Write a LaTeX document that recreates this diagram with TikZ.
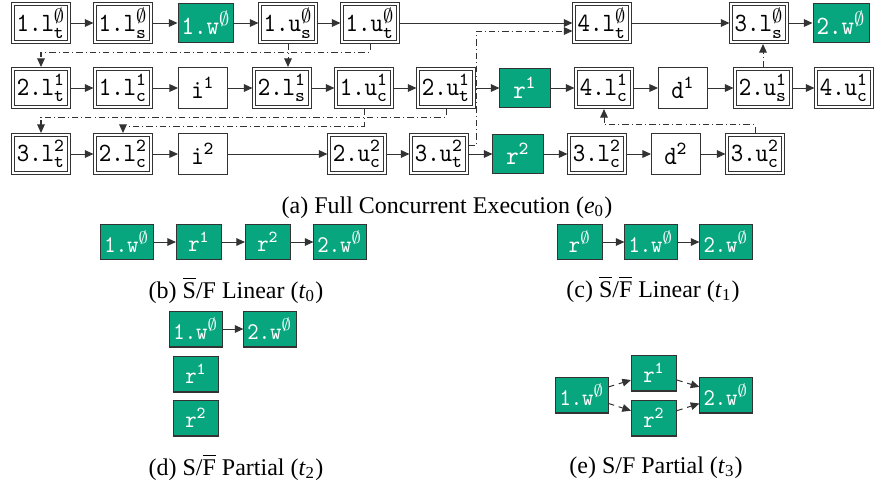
\documentclass[tikz,border=0pt]{standalone}
\usepackage{fontspec}
\setmainfont{Liberation Serif}
\newfontfamily\boxfont{lmmono10-regular.otf}[FakeStretch=0.9]
\usepackage{tikz}
\usetikzlibrary{arrows.meta,calc}
\definecolor{wgreen}{HTML}{07A67E}
\definecolor{ink}{HTML}{333333}
\newcommand{\opn}[3]{#1$^{\mathtt{#2}}_{\mathtt{#3}}$}
\newcommand{\ops}[2]{#1$^{\mathtt{#2}}$}
\tikzset{
  dbox/.style={draw=ink,double,double distance=0.8pt,line width=0.42pt,outer sep=0.82pt,inner sep=0pt,minimum width=23pt,minimum height=15.9pt,font=\fontsize{11}{13}\selectfont\boxfont},
  sbox/.style={draw=ink,line width=0.42pt,inner sep=0pt,minimum width=20.4pt,minimum height=17.1pt,font=\fontsize{11}{13}\selectfont\boxfont},
  gbox/.style={draw=ink,fill=wgreen,text=white,line width=0.42pt,inner xsep=1.5pt,inner ysep=0pt,minimum width=20.9pt,minimum height=16.3pt,font=\fontsize{11}{13}\selectfont\boxfont},
  gsub/.style={gbox,inner xsep=1.5pt,minimum width=18.8pt,minimum height=15pt,font=\fontsize{10}{12}\selectfont\boxfont},
  varr/.style={-{Triangle[length=3.6pt,width=3.2pt]},line width=0.42pt,draw=ink},
  vdash/.style={varr,dash pattern=on 2.6pt off 1.3pt on 0.4pt off 1.3pt},
  vdot/.style={varr,dash pattern=on 2.4pt off 2pt},
  capt/.style={inner sep=0pt,anchor=base,font=\fontsize{10}{12}\selectfont}
}
\begin{document}
\begin{tikzpicture}[x=0.417pt,y=-0.417pt]
  \useasboundingbox (0,0) rectangle (874,486);
  % (a) full concurrent execution
  \node[dbox] (A1) at (41,23) {\opn{1.l}{\emptyset}{t}};
  \node[dbox] (A2) at (123,23) {\opn{1.l}{\emptyset}{s}};
  \node[gbox] (A3) at (206,23) {\ops{1.w}{\emptyset}};
  \node[dbox] (A4) at (288,23) {\opn{1.u}{\emptyset}{s}};
  \node[dbox] (A5) at (370,23) {\opn{1.u}{\emptyset}{t}};
  \node[dbox] (A6) at (602,23) {\opn{4.l}{\emptyset}{t}};
  \node[dbox] (A7) at (759,23) {\opn{3.l}{\emptyset}{s}};
  \node[gbox] (A8) at (841,23) {\ops{2.w}{\emptyset}};

  \node[dbox] (B1) at (41,88) {\opn{2.l}{1}{t}};
  \node[dbox] (B2) at (123,88) {\opn{1.l}{1}{c}};
  \node[sbox] (B3) at (203,88) {\ops{i}{1}};
  \node[dbox] (B4) at (282,88) {\opn{2.l}{1}{s}};
  \node[dbox] (B5) at (364,88) {\opn{1.u}{1}{c}};
  \node[dbox] (B6) at (446,88) {\opn{2.u}{1}{t}};
  \node[gbox] (B7) at (525,88) {\ops{r}{1}};
  \node[dbox] (B8) at (604,88) {\opn{4.l}{1}{c}};
  \node[sbox] (B9) at (683,88) {\ops{d}{1}};
  \node[dbox] (B10) at (763,88) {\opn{2.u}{1}{s}};
  \node[dbox] (B11) at (844,88) {\opn{4.u}{1}{c}};

  \node[dbox] (C1) at (41,154) {\opn{3.l}{2}{t}};
  \node[dbox] (C2) at (123,154) {\opn{2.l}{2}{c}};
  \node[sbox] (C3) at (203,154) {\ops{i}{2}};
  \node[dbox] (C4) at (357,154) {\opn{2.u}{2}{c}};
  \node[dbox] (C5) at (439,154) {\opn{3.u}{2}{t}};
  \node[gbox] (C6) at (518,154) {\ops{r}{2}};
  \node[dbox] (C7) at (597,154) {\opn{3.l}{2}{c}};
  \node[sbox] (C8) at (676,154) {\ops{d}{2}};
  \node[dbox] (C9) at (755,154) {\opn{3.u}{2}{c}};

  \draw[varr] (A1) -- (A2); \draw[varr] (A2) -- (A3); \draw[varr] (A3) -- (A4);
  \draw[varr] (A4) -- (A5); \draw[varr] (A5) -- (A6); \draw[varr] (A6) -- (A7);
  \draw[varr] (A7) -- (A8);
  \draw[varr] (B1) -- (B2); \draw[varr] (B2) -- (B3); \draw[varr] (B3) -- (B4);
  \draw[varr] (B4) -- (B5); \draw[varr] (B5) -- (B6); \draw[varr] (B6) -- (B7);
  \draw[varr] (B7) -- (B8); \draw[varr] (B8) -- (B9); \draw[varr] (B9) -- (B10);
  \draw[varr] (B10) -- (B11);
  \draw[varr] (C1) -- (C2); \draw[varr] (C2) -- (C3); \draw[varr] (C3) -- (C4);
  \draw[varr] (C4) -- (C5); \draw[varr] (C5) -- (C6); \draw[varr] (C6) -- (C7);
  \draw[varr] (C7) -- (C8); \draw[varr] (C8) -- (C9);

  % cross-row dependencies
  \draw[vdash] (A5.south) -- ++(0,8) -| (B1.north);
  \draw[vdash] (A4.south) -- (A4.south |- B4.north);
  \draw[vdash] (B6.south) -- ++(0,8) -| (C1.north);
  \draw[vdash] (B5.south) -- ++(0,17) -| (C2.north);
  \draw[vdash] ($(C5.east)+(0,-9)$) -- ++(8,0) |- ($(A6.west)+(0,8)$);
  \draw[vdash] (B10.north) -- (B10.north |- A7.south);
  \draw[vdash] (C9.north) -- ++(0,-8) -| (B8.south);
  \node[capt] (capa) at (447,213) {(a) Full Concurrent Execution (\textit{e}\textsubscript{0})};

  % (b) and (c) linear
  \node[gsub] (b1) at (127,242) {\ops{1.w}{\emptyset}};
  \node[gsub] (b2) at (199,242) {\ops{r}{1}};
  \node[gsub] (b3) at (268,242) {\ops{r}{2}};
  \node[gsub] (b4) at (340,242) {\ops{2.w}{\emptyset}};
  \draw[varr] (b1) -- (b2); \draw[varr] (b2) -- (b3); \draw[varr] (b3) -- (b4);
  \node[capt] (capb) at (236,298) {(b) $\overline{\mbox{S}}$/F Linear (\textit{t}\textsubscript{0})};

  \node[gsub] (c1) at (580,242) {\ops{r}{\emptyset}};
  \node[gsub] (c2) at (651,242) {\ops{1.w}{\emptyset}};
  \node[gsub] (c3) at (726,242) {\ops{2.w}{\emptyset}};
  \draw[varr] (c1) -- (c2); \draw[varr] (c2) -- (c3);
  \node[capt] (capc) at (653,297) {(c) $\overline{\mbox{S}}$/$\overline{\mbox{F}}$ Linear (\textit{t}\textsubscript{1})};

  % (d) and (e) partial
  \node[gsub] (d1) at (196,329) {\ops{1.w}{\emptyset}};
  \node[gsub] (d2) at (270,329) {\ops{2.w}{\emptyset}};
  \node[gsub] (d3) at (196,374) {\ops{r}{1}};
  \node[gsub] (d4) at (196,418) {\ops{r}{2}};
  \draw[varr] (d1) -- (d2);
  \node[capt] (capd) at (236,475) {(d) S/$\overline{\mbox{F}}$ Partial (\textit{t}\textsubscript{2})};

  \node[gsub] (e1) at (582,395) {\ops{1.w}{\emptyset}};
  \node[gsub] (e2) at (654,373) {\ops{r}{1}};
  \node[gsub] (e3) at (654,418) {\ops{r}{2}};
  \node[gsub] (e4) at (726,395) {\ops{2.w}{\emptyset}};
  \draw[vdot] (e1) -- (e2); \draw[vdot] (e1) -- (e3);
  \draw[vdot] (e2) -- (e4); \draw[vdot] (e3) -- (e4);
  \node[capt] (cape) at (656,473) {(e) S/F Partial (\textit{t}\textsubscript{3})};
\end{tikzpicture}
\end{document}
